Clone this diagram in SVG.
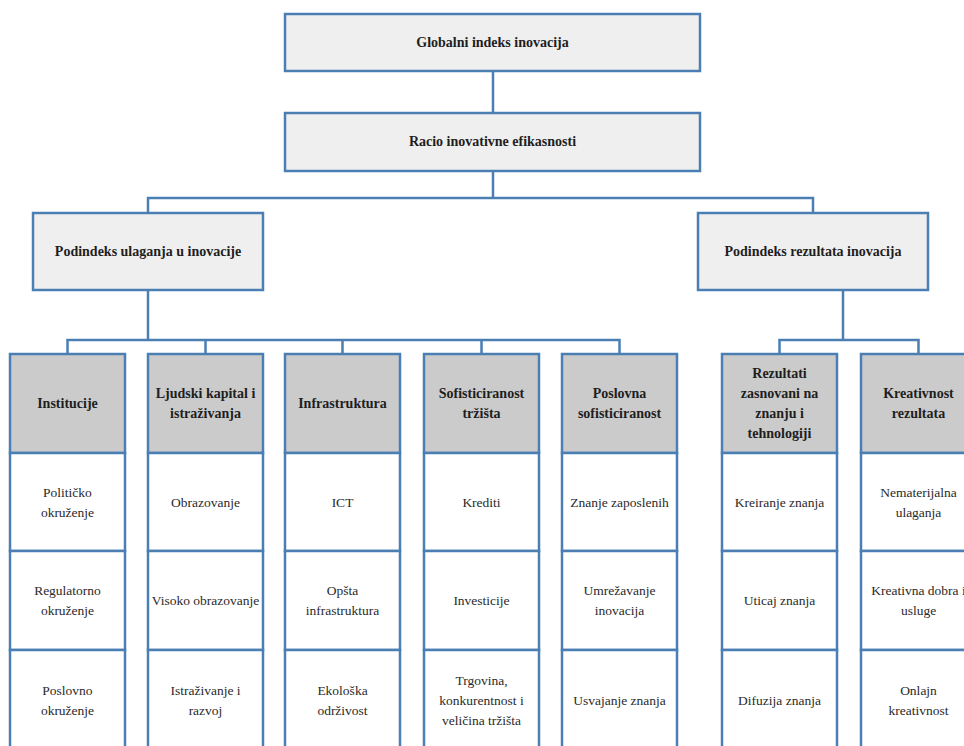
<svg xmlns="http://www.w3.org/2000/svg" width="964" height="746" viewBox="0 0 964 746">
<style>
.top{fill:#efefef;stroke:#4b7fb4;stroke-width:2.5}
.hd{fill:#cbcbcb;stroke:#4b7fb4;stroke-width:2.5}
.cell{fill:#ffffff;stroke:#4b7fb4;stroke-width:2.5}
.ln{fill:none;stroke:#4b7fb4;stroke-width:2.5}
.b{font-family:"Liberation Serif","Times New Roman",serif;font-weight:bold;font-size:14px;fill:#1e1e1e;text-anchor:middle}
.r{font-family:"Liberation Serif","Times New Roman",serif;font-size:13.5px;fill:#2a2a2a;text-anchor:middle}
</style>
<rect width="964" height="746" fill="#ffffff"/>
<g id="connectors">
<path class="ln" d="M493 71V113"/>
<path class="ln" d="M493 171V198"/>
<path class="ln" d="M148 213V198H813V213"/>
<path class="ln" d="M148 290V340"/>
<path class="ln" d="M67.5 354V340H619.5V354"/>
<path class="ln" d="M205.5 340V354M342.5 340V354M481.5 340V354"/>
<path class="ln" d="M843 290V340"/>
<path class="ln" d="M779.5 354V340H918.5V354"/>
</g>
<g id="gii"><rect class="top" x="285" y="14" width="415" height="57"/><text class="b" x="492.5" y="47">Globalni indeks inovacija</text></g>
<g id="racio"><rect class="top" x="285" y="113" width="415" height="58"/><text class="b" x="492.5" y="146">Racio inovativne efikasnosti</text></g>
<g id="ulaganja"><rect class="top" x="33" y="213" width="230" height="77"/><text class="b" x="148" y="256">Podindeks ulaganja u inovacije</text></g>
<g id="rezultati"><rect class="top" x="698" y="213" width="230" height="77"/><text class="b" x="813" y="256">Podindeks rezultata inovacija</text></g>

<g id="col1">
<rect class="hd" x="10" y="354" width="115" height="99"/><text class="b" x="67.5" y="408">Institucije</text>
<rect class="cell" x="10" y="453" width="115" height="98"/><text class="r" x="67.5" y="497">Političko</text><text class="r" x="67.5" y="517">okruženje</text>
<rect class="cell" x="10" y="551" width="115" height="99"/><text class="r" x="67.5" y="595">Regulatorno</text><text class="r" x="67.5" y="615">okruženje</text>
<rect class="cell" x="10" y="650" width="115" height="110"/><text class="r" x="67.5" y="695">Poslovno</text><text class="r" x="67.5" y="715">okruženje</text>
</g>
<g id="col2">
<rect class="hd" x="148" y="354" width="115" height="99"/><text class="b" x="205.5" y="398">Ljudski kapital i</text><text class="b" x="205.5" y="418">istraživanja</text>
<rect class="cell" x="148" y="453" width="115" height="98"/><text class="r" x="205.5" y="507">Obrazovanje</text>
<rect class="cell" x="148" y="551" width="115" height="99"/><text class="r" x="205.5" y="605">Visoko obrazovanje</text>
<rect class="cell" x="148" y="650" width="115" height="110"/><text class="r" x="205.5" y="695">Istraživanje i</text><text class="r" x="205.5" y="715">razvoj</text>
</g>
<g id="col3">
<rect class="hd" x="285" y="354" width="115" height="99"/><text class="b" x="342.5" y="408">Infrastruktura</text>
<rect class="cell" x="285" y="453" width="115" height="98"/><text class="r" x="342.5" y="507">ICT</text>
<rect class="cell" x="285" y="551" width="115" height="99"/><text class="r" x="342.5" y="595">Opšta</text><text class="r" x="342.5" y="615">infrastruktura</text>
<rect class="cell" x="285" y="650" width="115" height="110"/><text class="r" x="342.5" y="695">Ekološka</text><text class="r" x="342.5" y="715">održivost</text>
</g>
<g id="col4">
<rect class="hd" x="424" y="354" width="115" height="99"/><text class="b" x="481.5" y="398">Sofisticiranost</text><text class="b" x="481.5" y="418">tržišta</text>
<rect class="cell" x="424" y="453" width="115" height="98"/><text class="r" x="481.5" y="507">Krediti</text>
<rect class="cell" x="424" y="551" width="115" height="99"/><text class="r" x="481.5" y="605">Investicije</text>
<rect class="cell" x="424" y="650" width="115" height="110"/><text class="r" x="481.5" y="685">Trgovina,</text><text class="r" x="481.5" y="705">konkurentnost i</text><text class="r" x="481.5" y="725">veličina tržišta</text>
</g>
<g id="col5">
<rect class="hd" x="562" y="354" width="115" height="99"/><text class="b" x="619.5" y="398">Poslovna</text><text class="b" x="619.5" y="418">sofisticiranost</text>
<rect class="cell" x="562" y="453" width="115" height="98"/><text class="r" x="619.5" y="507">Znanje zaposlenih</text>
<rect class="cell" x="562" y="551" width="115" height="99"/><text class="r" x="619.5" y="595">Umrežavanje</text><text class="r" x="619.5" y="615">inovacija</text>
<rect class="cell" x="562" y="650" width="115" height="110"/><text class="r" x="619.5" y="705">Usvajanje znanja</text>
</g>
<g id="col6">
<rect class="hd" x="722" y="354" width="115" height="99"/><text class="b" x="779.5" y="378">Rezultati</text><text class="b" x="779.5" y="398">zasnovani na</text><text class="b" x="779.5" y="418">znanju i</text><text class="b" x="779.5" y="438">tehnologiji</text>
<rect class="cell" x="722" y="453" width="115" height="98"/><text class="r" x="779.5" y="507">Kreiranje znanja</text>
<rect class="cell" x="722" y="551" width="115" height="99"/><text class="r" x="779.5" y="605">Uticaj znanja</text>
<rect class="cell" x="722" y="650" width="115" height="110"/><text class="r" x="779.5" y="705">Difuzija znanja</text>
</g>
<g id="col7">
<rect class="hd" x="861" y="354" width="115" height="99"/><text class="b" x="918.5" y="398">Kreativnost</text><text class="b" x="918.5" y="418">rezultata</text>
<rect class="cell" x="861" y="453" width="115" height="98"/><text class="r" x="918.5" y="497">Nematerijalna</text><text class="r" x="918.5" y="517">ulaganja</text>
<rect class="cell" x="861" y="551" width="115" height="99"/><text class="r" x="918.5" y="595">Kreativna dobra i</text><text class="r" x="918.5" y="615">usluge</text>
<rect class="cell" x="861" y="650" width="115" height="110"/><text class="r" x="918.5" y="695">Onlajn</text><text class="r" x="918.5" y="715">kreativnost</text>
</g>
</svg>
